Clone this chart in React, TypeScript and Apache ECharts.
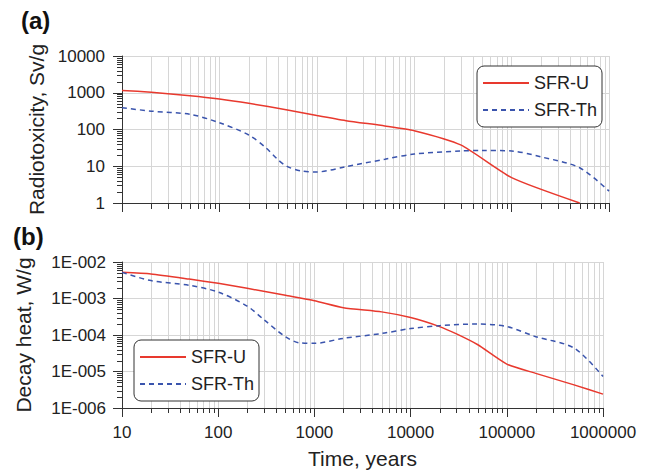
import React, { useEffect, useRef } from "react";
import * as echarts from "echarts";

// ---------- data ----------
const seriesNames = ["SFR-U", "SFR-Th"];

// (a) Radiotoxicity, Sv/g
const timeU_a = [10, 20, 50, 100, 200, 500, 1000, 2000, 5000, 10000, 30000, 100000, 500000];
const toxU = [1160, 1030, 830, 676, 516, 340, 240, 174, 125, 93, 38, 4.9, 1.0];

const timeTh_a = [10, 20, 50, 100, 200, 300, 400, 500, 700, 1000, 2000, 5000, 10000, 30000, 50000, 100000, 200000, 500000, 1000000];
const toxTh = [392, 316, 259, 153, 71, 32, 15, 9.8, 7.4, 7.0, 9.8, 15.5, 21.5, 26, 27, 26, 18, 9.1, 2.1];

// (b) Decay heat, W/g
const timeU_b = [10, 20, 50, 100, 200, 500, 1000, 2000, 5000, 10000, 20000, 30000, 50000, 100000, 200000, 500000, 1000000];
const heatU = [5.2e-3, 4.7e-3, 3.4e-3, 2.6e-3, 1.9e-3, 1.22e-3, 8.7e-4, 5.6e-4, 4.3e-4, 3.0e-4, 1.7e-4, 1.07e-4, 5.4e-5, 1.6e-5, 8.9e-6, 4.3e-6, 2.4e-6];

const timeTh_b = [10, 20, 50, 100, 200, 300, 500, 700, 1000, 2000, 5000, 10000, 20000, 50000, 100000, 200000, 500000, 1000000];
const heatTh = [5.2e-3, 3.1e-3, 2.3e-3, 1.5e-3, 6.2e-4, 2.6e-4, 9e-5, 6.1e-5, 5.9e-5, 8.1e-5, 1.1e-4, 1.5e-4, 1.8e-4, 2.0e-4, 1.7e-4, 9e-5, 4.4e-5, 7.3e-6];

// axis ranges
const xRange = [10, 1000000];
const yRangeA = [1, 10000];
const yRangeB = [1e-6, 1e-2];

const RED = "#e8392e";
const BLUE = "#3a54ad";
const GRID = "#d6d6d6";
const AXIS = "#333333";
const FONT = "Liberation Sans, Arial, Helvetica, sans-serif";

function minorValues(lo: number, hi: number): number[] {
  const out: number[] = [];
  for (let d = lo; d < hi; d *= 10) {
    for (let m = 2; m <= 9; m++) out.push(Math.round(m * d * 1e12) / 1e12);
  }
  return out;
}

function zip(xs: number[], ys: number[]) {
  return xs.map((x, i) => [x, ys[i]]);
}

function sciLabel(v: number) {
  const e = Math.round(Math.log10(v));
  return "1E" + (e < 0 ? "-" : "+") + String(Math.abs(e)).padStart(3, "0");
}

function minorXSeries(gi: number, yr: number[], tickLen: number) {
  return {
    type: "custom",
    xAxisIndex: gi,
    yAxisIndex: gi,
    silent: true,
    clip: false,
    z: 1,
    data: minorValues(xRange[0], xRange[1]).map((x) => [x, yr[0]]),
    encode: { x: 0, y: 1 },
    renderItem: (params: any, api: any) => {
      const x = api.value(0);
      const b = api.coord([x, yr[0]]);
      const t = api.coord([x, yr[1]]);
      const px = Math.round(b[0]) + 0.5;
      return {
        type: "group",
        children: [
          { type: "line", shape: { x1: px, y1: t[1], x2: px, y2: b[1] }, style: { stroke: GRID, lineWidth: 1 } },
          { type: "line", shape: { x1: px, y1: b[1], x2: px, y2: b[1] + tickLen }, style: { stroke: AXIS, lineWidth: 1 } },
        ],
      };
    },
  };
}

function minorYSeries(gi: number, yr: number[], tickLen: number) {
  return {
    type: "custom",
    xAxisIndex: gi,
    yAxisIndex: gi,
    silent: true,
    clip: false,
    z: 1,
    data: minorValues(yr[0], yr[1]).map((y) => [xRange[0], y]),
    encode: { x: 0, y: 1 },
    renderItem: (params: any, api: any) => {
      const y = api.value(1);
      const p = api.coord([xRange[0], y]);
      const py = Math.round(p[1]) + 0.5;
      return {
        type: "line",
        shape: { x1: p[0] - tickLen, y1: py, x2: p[0], y2: py },
        style: { stroke: AXIS, lineWidth: 1 },
      };
    },
  };
}

export default function App() {
  const ref = useRef<HTMLDivElement>(null);

  useEffect(() => {
    if (!ref.current) return;
    const chart = echarts.init(ref.current, undefined, { renderer: "svg" });

    const xAxisBase = (gi: number, showLabels: boolean) => ({
      type: "log",
      logBase: 10,
      gridIndex: gi,
      min: xRange[0],
      max: xRange[1],
      splitNumber: 5,
      axisLine: { show: true, lineStyle: { color: AXIS, width: 1 } },
      axisTick: { show: true, length: 9, lineStyle: { color: AXIS } },
      axisLabel: {
        show: showLabels,
        fontSize: 17,
        fontFamily: FONT,
        color: "#222",
        margin: 16,
        formatter: (v: number) => String(Math.round(v)),
      },
      splitLine: { show: true, lineStyle: { color: GRID, width: 1 } },
      minorTick: { show: false },
    });

    const legendBase = (left: number, top: number) => ({
      data: seriesNames,
      orient: "vertical",
      left,
      top,
      itemWidth: 46,
      itemHeight: 14,
      itemGap: 7,
      padding: [7, 5, 7, 5],
      borderColor: AXIS,
      borderWidth: 1,
      borderRadius: 7,
      backgroundColor: "#ffffff",
      itemStyle: { opacity: 0 },
      textStyle: { fontSize: 18, fontFamily: FONT, color: "#222", lineHeight: 20 },
      selectedMode: false,
    });

    const option: any = {
      animation: false,
      backgroundColor: "#ffffff",
      textStyle: { fontFamily: FONT },
      grid: [
        { left: 122, top: 56, width: 487, height: 147 },
        { left: 122, top: 262, width: 481, height: 146 },
      ],
      xAxis: [
        xAxisBase(0, false),
        {
          ...xAxisBase(1, true),
          name: "Time, years",
          nameLocation: "middle",
          nameGap: 40,
          nameTextStyle: { fontSize: 21, fontFamily: FONT, color: "#222" },
        },
      ],
      yAxis: [
        {
          type: "log",
          logBase: 10,
          gridIndex: 0,
          min: yRangeA[0],
          max: yRangeA[1],
          splitNumber: 4,
          name: "Radiotoxicity, Sv/g",
          nameLocation: "middle",
          nameGap: 72,
          nameTextStyle: { fontSize: 21, fontFamily: FONT, color: "#222" },
          axisLine: { show: true, lineStyle: { color: AXIS, width: 1 } },
          axisTick: { show: true, length: 9, lineStyle: { color: AXIS } },
          axisLabel: {
            fontSize: 17,
            fontFamily: FONT,
            color: "#222",
            margin: 17,
            formatter: (v: number) => String(Math.round(v)),
          },
          splitLine: { show: true, lineStyle: { color: GRID, width: 1 } },
        },
        {
          type: "log",
          logBase: 10,
          gridIndex: 1,
          min: yRangeB[0],
          max: yRangeB[1],
          splitNumber: 4,
          name: "Decay heat, W/g",
          nameLocation: "middle",
          nameGap: 88,
          nameTextStyle: { fontSize: 21, fontFamily: FONT, color: "#222" },
          axisLine: { show: true, lineStyle: { color: AXIS, width: 1 } },
          axisTick: { show: true, length: 9, lineStyle: { color: AXIS } },
          axisLabel: {
            fontSize: 17,
            fontFamily: FONT,
            color: "#222",
            margin: 16,
            formatter: (v: number) => sciLabel(v),
          },
          splitLine: { show: true, lineStyle: { color: GRID, width: 1 } },
        },
      ],
      legend: [legendBase(477, 66), legendBase(134, 340)],
      graphic: [
        { type: "text", left: 21, top: 8, style: { text: "(a)", font: "bold 24px " + FONT, fill: "#111" } },
        { type: "text", left: 13, top: 224, style: { text: "(b)", font: "bold 24px " + FONT, fill: "#111" } },
      ],
      series: [
        minorXSeries(0, yRangeA, 6),
        minorYSeries(0, yRangeA, 5),
        minorXSeries(1, yRangeB, 5),
        minorYSeries(1, yRangeB, 5),
        {
          name: seriesNames[0],
          type: "line",
          xAxisIndex: 0,
          yAxisIndex: 0,
          data: zip(timeU_a, toxU),
          symbol: "none",
          smooth: 0.2,
          z: 3,
          lineStyle: { color: RED, width: 1.5 },
          itemStyle: { color: RED },
        },
        {
          name: seriesNames[1],
          type: "line",
          xAxisIndex: 0,
          yAxisIndex: 0,
          data: zip(timeTh_a, toxTh),
          symbol: "none",
          smooth: 0.3,
          z: 3,
          lineStyle: { color: BLUE, width: 1.5, type: [5, 4] },
          itemStyle: { color: BLUE },
        },
        {
          name: seriesNames[0],
          type: "line",
          xAxisIndex: 1,
          yAxisIndex: 1,
          data: zip(timeU_b, heatU),
          symbol: "none",
          smooth: 0.2,
          z: 3,
          lineStyle: { color: RED, width: 1.5 },
          itemStyle: { color: RED },
        },
        {
          name: seriesNames[1],
          type: "line",
          xAxisIndex: 1,
          yAxisIndex: 1,
          data: zip(timeTh_b, heatTh),
          symbol: "none",
          smooth: 0.3,
          z: 3,
          lineStyle: { color: BLUE, width: 1.5, type: [5, 4] },
          itemStyle: { color: BLUE },
        },
      ],
    };

    chart.setOption(option);
    return () => chart.dispose();
  }, []);

  return (
    <div
      ref={ref}
      style={{ position: "absolute", left: 0, top: 0, width: 649, height: 475, background: "#fff" }}
    />
  );
}
